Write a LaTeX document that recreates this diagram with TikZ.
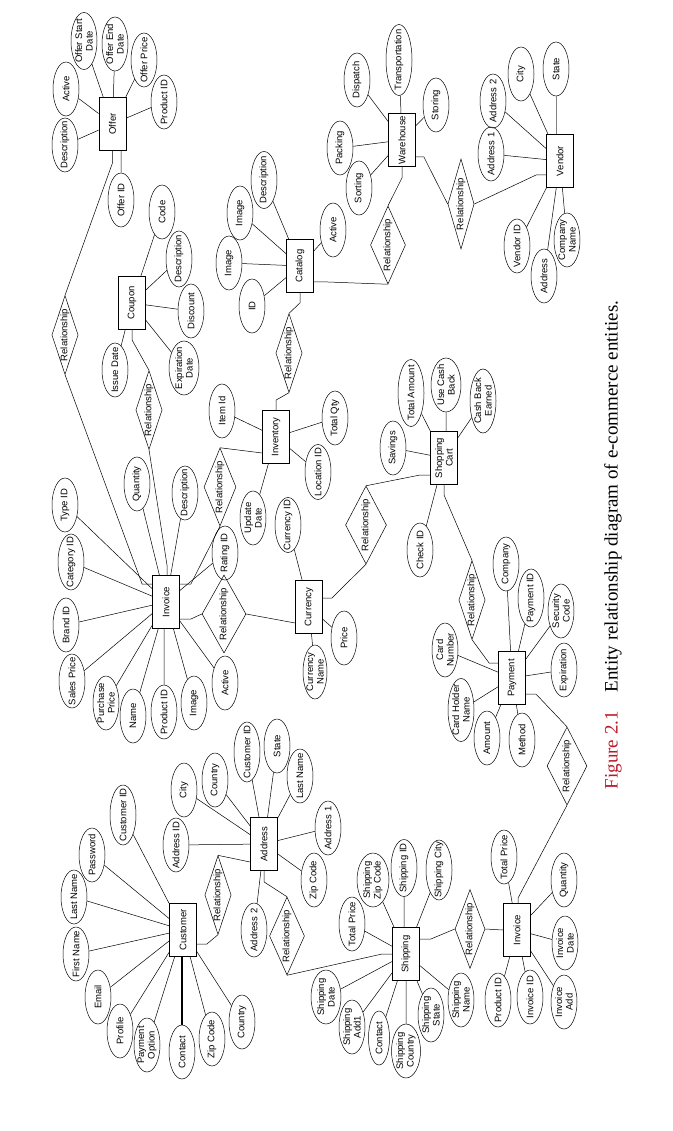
\documentclass[tikz,border=0pt]{standalone}
\usepackage{fontspec}
\setmainfont{Liberation Serif}
\setsansfont{Liberation Sans}
\usetikzlibrary{shapes.geometric,calc}
\definecolor{figred}{RGB}{185,28,40}
\newcommand\attrfont{\sffamily\fontsize{9.5}{10.5}\selectfont}
\tikzset{
  ent/.style={draw,line width=0.8pt,rectangle,rotate=90,minimum width=53pt,minimum height=27pt,inner sep=0pt,align=center,font=\attrfont},
  att/.style={draw,ellipse,rotate=90,minimum width=54pt,minimum height=26pt,inner xsep=-30pt,inner ysep=-15pt,align=center,font=\attrfont},
  rel/.style={draw,diamond,rotate=90,shape aspect=3,minimum width=78pt,minimum height=26pt,inner sep=0pt,font=\attrfont},
  relw/.style={rel,shape aspect=2,minimum height=38pt},
}
\begin{document}
\begin{tikzpicture}[x=1pt,y=-1pt,line width=0.5pt]
\useasboundingbox (0,0) rectangle (672,1131);
%---Offer-------------------------------------------
\node[ent] (offer) at (112.5,124) {Offer};
\node[att] (offdesc) at (65,145) {Description};
\node[att] (offact) at (66,89) {Active};
\node[att,minimum width=57pt] (offstart) at (84,41) {Offer Start\\Date};
\node[att] (offend) at (115,44) {Offer End\\Date};
\node[att] (offprice) at (144,60) {Offer Price};
\node[att] (offprod) at (164,102) {Product ID};
\node[att] (offid) at (121,200) {Offer ID};
\draw (offer) -- (offdesc) (offer) -- (offact) (offer) -- (offstart) (offer) -- (offend)
      (offer) -- (offprice) (offer) -- (offprod) (offid) -- (offid |- offer.west);
%---Coupon------------------------------------------
\node[ent] (coupon) at (132,303) {Coupon};
\node[att] (cpncode) at (162,212) {Code};
\node[att,minimum width=56pt] (cpndesc) at (179,259) {Description};
\node[att] (cpndisc) at (191,311) {Discount};
\node[att,minimum height=30pt] (cpnexp) at (184,368) {Expiration\\Date};
\node[att] (cpnissue) at (115,370) {Issue Date};
\draw (coupon) -- (cpncode) (coupon) -- (cpndesc) (coupon) -- (cpndisc)
      (coupon) -- (cpnexp) (coupon) -- (cpnissue);
%---Catalog-----------------------------------------
\node[ent] (catalog) at (300,266) {Catalog};
\node[att] (catimg) at (240,213) {Image};
\node[att,minimum width=57pt] (catdesc) at (264,180) {Description};
\node[att] (catact) at (333,230) {Active};
\node[att] (catimgb) at (229,263) {Image};
\node[att] (catid) at (252,306) {ID};
\draw (catalog) -- (catimg) (catalog) -- (catdesc) (catalog) -- (catact)
      (catalog) -- (catimgb) (catalog) -- (catid);
%---Warehouse---------------------------------------
\node[ent] (warehouse) at (402,140) {Warehouse};
\node[att] (whdisp) at (357,80) {Dispatch};
\node[att,minimum width=71pt] (whtrans) at (399,60) {Transportation};
\node[att] (whstor) at (436,105) {Storing};
\node[att] (whpack) at (340,148) {Packing};
\node[att] (whsort) at (359,188) {Sorting};
\draw (warehouse) -- (whdisp) (warehouse) -- (whtrans) (warehouse) -- (whstor)
      (warehouse) -- (whpack) (warehouse) -- (whsort);
%---Vendor------------------------------------------
\node[ent] (vendor) at (560,161) {Vendor};
\node[att] (vndaddrb) at (493,101) {Address 2};
\node[att] (vndcity) at (521,74) {City};
\node[att] (vndstate) at (556,69) {State};
\node[att] (vndaddra) at (491,154) {Address 1};
\node[att] (vndid) at (517,246) {Vendor ID};
\node[att] (vndaddr) at (544,276) {Address};
\node[att] (vndcomp) at (567,240) {Company\\Name};
\draw (vendor) -- (vndaddrb) (vendor) -- (vndcity) (vendor) -- (vndaddra)
      (vendor) -- (vndid) (vendor) -- (vndaddr) (vendor) -- (vndcomp);
\draw[gray] (vndstate) -- (vndstate |- vendor.east);
%---Inventory---------------------------------------
\node[ent] (inventory) at (276,437) {Inventory};
\node[att] (stkitem) at (222,411) {Item Id};
\node[att] (stkqty) at (335,418) {Total Qty};
\node[att,minimum width=55pt] (stkloc) at (318,472) {Location ID};
\node[att] (stkupd) at (253,518) {Update\\Date};
\draw (inventory) -- (stkitem) (inventory) -- (stkqty) (inventory) -- (stkloc)
      (inventory) -- (stkupd);
%---Currency----------------------------------------
\node[ent] (currency) at (309,607) {Currency};
\node[att,minimum width=55pt] (curid) at (288,525) {Currency ID};
\node[att] (curprice) at (344,638) {Price};
\node[att,minimum height=24pt] (curname) at (315,672) {Currency\\Name};
\draw (currency) -- (curid) (currency) -- (curprice) (currency) -- (curname);
%---Shopping Cart-----------------------------------
\node[ent] (cart) at (444,458) {Shopping\\Cart};
\node[att,minimum width=67pt] (cartamt) at (411,393) {Total Amount};
\node[att] (cartsav) at (393,448) {Savings};
\node[att,minimum height=30pt] (cartuse) at (446,385) {Use Cash\\Back};
\node[att,minimum width=64pt] (cartearn) at (483,401) {Cash Back\\Earned};
\node[att] (cartchk) at (420,550) {Check ID};
\draw (cart) -- (cartamt) (cart) -- (cartsav) (cartuse) -- (cartuse |- cart.east)
      (cart) -- (cartearn) (cart) -- (cartchk);
%---Invoice-----------------------------------------
\node[ent] (invoice) at (166,602) {Invoice};
\node[att] (invtype) at (65,505) {Type ID};
\node[att,minimum width=56pt] (invcat) at (71,562) {Category ID};
\node[att] (invbrand) at (66,625) {Brand ID};
\node[att] (invsale) at (72,681) {Sales Price};
\node[att] (invpurch) at (106,703) {Purchase\\Price};
\node[att] (invname) at (133,716) {Name};
\node[att] (invprod) at (164,712) {Product ID};
\node[att] (invimg) at (194,703) {Image};
\node[att] (invact) at (225,683) {Active};
\node[att] (invrate) at (225,553) {Rating ID};
\node[att] (invqty) at (137,484) {Quantity};
\node[att] (invdesc) at (185,493) {Description};
\draw (invoice) -- (invtype) (invoice) -- (invcat) (invoice) -- (invbrand) (invoice) -- (invsale)
      (invoice) -- (invpurch) (invoice) -- (invname) (invprod) -- (invprod |- invoice.west)
      (invoice) -- (invimg) (invoice) -- (invact) (invoice) -- (invrate)
      (invoice) -- (invqty) (invoice) -- (invdesc);
%---Payment-----------------------------------------
\node[ent] (payment) at (512,678) {Payment};
\node[att] (paycard) at (445,650) {Card\\Number};
\node[att,minimum width=63pt] (payholder) at (461,710) {Card Holder\\Name};
\node[att] (payamt) at (487,738) {Amount};
\node[att] (paymeth) at (522,740) {Method};
\node[att] (payexp) at (564,670) {Expiration};
\node[att] (paysec) at (561,611) {Security\\Code};
\node[att,minimum width=58pt] (payid) at (531,598) {Payment ID};
\node[att] (paycomp) at (506,564) {Company};
\draw (payment) -- (paycard) (payment) -- (payholder) (payment) -- (payamt) (payment) -- (paymeth)
      (payment) -- (payexp) (payment) -- (paysec) (payment) -- (payid) (payment) -- (paycomp);
%---Customer----------------------------------------
\node[ent] (customer) at (183,930) {Customer};
\node[att,minimum width=60pt] (custid) at (123,815) {Customer ID};
\node[att] (custpass) at (92,855) {Password};
\node[att] (custlast) at (74,897) {Last Name};
\node[att] (custfirst) at (76,954) {First Name};
\node[att] (custmail) at (98,997) {Email};
\node[att] (custprof) at (120,1031) {Profile};
\node[att] (custpay) at (147,1045) {Payment\\Option};
\node[att] (custcont) at (182,1052) {Contact};
\node[att] (custzip) at (212,1039) {Zip Code};
\node[att] (custctry) at (242,1022) {Country};
\draw (customer) -- (custid) (customer) -- (custpass) (customer) -- (custlast) (customer) -- (custfirst)
      (customer) -- (custmail) (customer) -- (custprof) (customer) -- (custpay)
      (customer) -- (custzip) (customer) -- (custctry);
\draw[line width=1.2pt] (custcont) -- (custcont |- customer.west);
%---Address-----------------------------------------
\node[ent] (address) at (264,844) {Address};
\node[att] (addrid) at (176,845) {Address ID};
\node[att] (addrcity) at (184,790) {City};
\node[att] (addrctry) at (215,780) {Country};
\node[att,minimum width=60pt] (addrcust) at (247,752) {Customer ID};
\node[att] (addrstate) at (277,746) {State};
\node[att] (addrlast) at (300,776) {Last Name};
\node[att] (addra) at (328,828) {Address 1};
\node[att] (addrzip) at (314,880) {Zip Code};
\node[att] (addrb) at (254,930) {Address 2};
\draw (address) -- (addrid) (address) -- (addrcity) (address) -- (addrctry) (address) -- (addrcust)
      (address) -- (addrstate) (address) -- (addrlast) (address) -- (addra)
      (address) -- (addrzip) (address) -- (addrb);
%---Shipping----------------------------------------
\node[ent] (shipping) at (406,954) {Shipping};
\node[att] (shprice) at (352,924) {Total Price};
\node[att,minimum height=32pt] (shzip) at (373,880) {Shipping\\Zip Code};
\node[att,minimum width=57pt] (shid) at (404,868) {Shipping ID};
\node[att,minimum width=60pt] (shcity) at (439,870) {Shipping City};
\node[att,minimum height=30pt] (shdate) at (326,997) {Shipping\\Date};
\node[att] (shadd) at (352,1027) {Shipping\\Add1};
\node[att,minimum height=21pt] (shcont) at (379,1038) {Contact};
\node[att,minimum height=29pt] (shctry) at (406,1051) {Shipping\\Country};
\node[att] (shstate) at (431,1015) {Shipping\\State};
\node[att] (shname) at (461,1000) {Shipping\\Name};
\draw (shipping) -- (shprice) (shipping) -- (shzip) (shid) -- (shid |- shipping.east)
      (shipping) -- (shcity) (shipping) -- (shdate) (shipping) -- (shadd) (shipping) -- (shcont)
      (shctry) -- (shctry |- shipping.west) (shipping) -- (shstate) (shipping) -- (shname);
%---Invoice (shipping)------------------------------
\node[ent] (invoiceb) at (517,930) {Invoice};
\node[att] (ivbprice) at (504,857) {Total Price};
\node[att] (ivbqty) at (564,880) {Quantity};
\node[att] (ivbdate) at (565,943) {Invoice\\Date};
\node[att] (ivbadd) at (564,1002) {Invoice\\Add};
\node[att] (ivbid) at (530,997) {Invoice ID};
\node[att] (ivbprod) at (498,1000) {Product ID};
\draw (invoiceb) -- (ivbprice) (invoiceb) -- (ivbqty) (invoiceb) -- (ivbdate)
      (invoiceb) -- (ivbadd) (invoiceb) -- (ivbid) (invoiceb) -- (ivbprod);
%---Relationships-----------------------------------
\node[rel] (relofr) at (65,335) {Relationship};
\node[rel] (relcpn) at (149,410) {Relationship};
\node[rel,shape aspect=2.5,minimum height=32pt] (relinv) at (220,487) {Relationship};
\node[relw,minimum height=44pt] (relcur) at (224,614) {Relationship};
\node[rel] (relcat) at (289,353) {Relationship};
\node[relw,minimum height=34pt] (relwh) at (388,245) {Relationship};
\node[rel,minimum width=90pt] (relvnd) at (461,204) {Relationship};
\node[relw,minimum height=41pt] (relcart) at (366,525) {Relationship};
\node[rel] (relpay) at (472,600) {Relationship};
\node[relw,minimum height=40pt] (relpinv) at (567,766) {Relationship};
\node[rel] (relcust) at (218,895) {Relationship};
\node[relw,minimum height=35pt] (reladdr) at (287,936) {Relationship};
\node[rel,minimum height=30pt] (relship) at (470,929) {Relationship};
\draw (offer.west) -- ++(0,12) -- (relofr.east)
      (relofr.west) -- ($(invoice.north)+(-10,-18)$) -- ($(invoice.north)+(0,-18)$);
\draw (coupon.west) -- ++(0,10) -- (relcpn.east)
      (relcpn.west) -- ($(invoice.east)+(1,-10)$) -- ($(invoice.east)+(1,0)$);
\draw (relinv.east) -- ($(inventory.north)+(0,16)$)
      (relinv.west) -- ($(invoice.south)+(11,-18)$) -- ($(invoice.south)+(0,-18)$);
\draw ($(invoice.south)+(0,17)$) -- ++(11,0) -- (relcur.north) (relcur.south) -- ($(currency.north)+(0,16)$);
\draw (catalog.west) -- ++(0,10) -- (relcat.east) (relcat.west) -- ($(inventory.east)+(0,-10)$) -- (inventory.east);
\draw ($(catalog.south)+(0,16)$) -- ++(14,0) -- (relwh.west) (relwh.east) -- ($(warehouse.west)+(0,11)$) -- (warehouse.west);
\draw ($(warehouse.south)+(0,17)$) -- ++(8,0) -- (relvnd.north) (relvnd.south) -- ($(vendor.north)+(-10,14)$) -- ($(vendor.north)+(0,14)$);
\draw (relcart.east) -- ($(cart.north)+(-10,17)$) -- ($(cart.north)+(0,17)$) (relcart.west) -- ($(currency.south)+(9,-9)$) -- ($(currency.south)+(0,-9)$);
\draw (cart.west) -- ++(0,10) -- (relpay.east) (relpay.west) -- ($(payment.north)+(-9,-15)$) -- ($(payment.north)+(0,-15)$);
\draw ($(payment.south)+(0,16)$) -- ++(10,0) -- (relpinv.east) (relpinv.west) -- ($(invoiceb.east)+(1,-5)$) -- ($(invoiceb.east)+(1,0)$);
\draw ($(customer.south)+(0,14)$) -- ++(10,0) -- (relcust.west) (relcust.east) -- ($(address.north)+(0,18)$);
\draw (address.west) -- ++(0,11) -- (reladdr.east) (reladdr.west) -- ($(shipping.north)+(-10,0)$) -- (shipping.north);
\draw ($(shipping.south)+(0,-15)$) -- ++(11,0) -- (relship.north) (relship.south) -- (invoiceb.north);
%---Caption-----------------------------------------
\node[rotate=90,font=\fontsize{19}{22}\selectfont,inner sep=0pt] (caption) at (613,545)
  {\textcolor{figred}{Figure 2.1}\quad Entity relationship diagram of e-commerce entities.};
\end{tikzpicture}
\end{document}
